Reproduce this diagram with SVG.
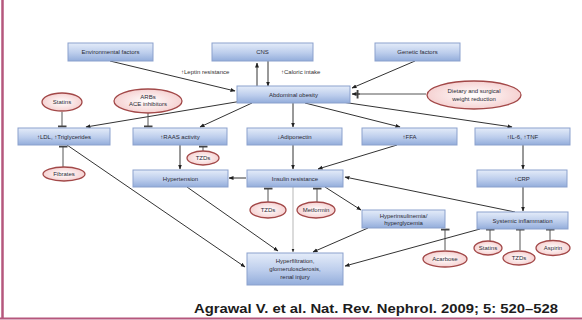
<svg xmlns="http://www.w3.org/2000/svg" width="582" height="320" viewBox="0 0 582 320">
  <defs>
    <linearGradient id="boxFill" x1="0" y1="0" x2="0" y2="1">
      <stop offset="0" stop-color="#e4ecf9"/>
      <stop offset="0.55" stop-color="#bccdec"/>
      <stop offset="1" stop-color="#93addb"/>
    </linearGradient>
    <radialGradient id="ovalFill" cx="0.5" cy="0.5" r="0.6">
      <stop offset="0" stop-color="#ffffff"/>
      <stop offset="1" stop-color="#f4c9c9"/>
    </radialGradient>
    <marker id="arrow" viewBox="0 0 10 10" refX="9" refY="5" markerWidth="5" markerHeight="5" orient="auto">
      <path d="M0,1 L10,5 L0,9 z" fill="#222"/>
    </marker>
    <marker id="bar" viewBox="0 0 4 12" refX="3" refY="6" markerWidth="3" markerHeight="9" orient="auto" markerUnits="userSpaceOnUse">
      <rect x="1" y="0" width="2.5" height="12" fill="#444"/>
    </marker>
  </defs>
  <style>
    .box { fill: url(#boxFill); stroke: #8ba1cd; stroke-width: 1; }
    .oval { fill: url(#ovalFill); stroke: #a24848; stroke-width: 1.3; }
    .lbl { font-family: "Liberation Sans", Arial, sans-serif; font-size: 6px; fill: #2a2a35; text-anchor: middle; }
    .note { font-family: "Liberation Sans", Arial, sans-serif; font-size: 6px; fill: #333; }
    .arr { fill: none; stroke: #333; stroke-width: 1; marker-end: url(#arrow); }
    .inh { fill: none; stroke: #555; stroke-width: 1; marker-end: url(#bar); }
    .thin { fill: none; stroke: #999; stroke-width: 0.7; marker-end: url(#arrow); }
    .cite { font-family: "Liberation Sans", Arial, sans-serif; font-size: 12.5px; font-weight: bold; fill: #1c1c1c; }
  </style>

  <rect width="582" height="320" fill="#ffffff"/>
  <!-- frame lines -->
  <line x1="2.5" y1="0" x2="2.5" y2="319" stroke="#b5577d" stroke-width="2.5"/>
  <line x1="0" y1="318.5" x2="582" y2="318.5" stroke="#b5577d" stroke-width="2"/>

  <g id="connectors">
    <path class="arr" d="M110,61 L235,91"/>
    <path class="arr" d="M415,61 L352,88"/>
    <path class="arr" d="M257,87 L257,63"/>
    <path class="arr" d="M268,61 L268,86"/>
    <path class="inh" d="M426,94 L357,94"/>
    <path class="arr" d="M360,94 L352,94"/>
    <path class="arr" d="M242,101 L86,127"/>
    <path class="arr" d="M252,103 L200,127"/>
    <path class="arr" d="M293,103 L293,127"/>
    <path class="arr" d="M305,103 L400,127"/>
    <path class="arr" d="M335,101 L512,127"/>
    <path class="inh" d="M62,112 L62,127"/>
    <path class="inh" d="M148,113 L148,127"/>
    <path class="inh" d="M63,167 L63,146"/>
    <path class="arr" d="M180,145 L180,169"/>
    <path class="inh" d="M203,151 L203,146"/>
    <path class="arr" d="M293,145 L293,169"/>
    <path class="arr" d="M397,145 L318,169"/>
    <path class="arr" d="M523,145 L523,169"/>
    <path class="arr" d="M523,187 L523,211"/>
    <path class="arr" d="M246,178 L229,178"/>
    <path class="arr" d="M515,212 L345,177"/>
    <path class="inh" d="M268,202 L268,188"/>
    <path class="inh" d="M317,202 L317,188"/>
    <path class="thin" d="M293,187 L293,252"/>
    <path class="arr" d="M325,187 L361,210"/>
    <path class="inh" d="M445,250 L445,229"/>
    <path class="arr" d="M368,228 L313,252"/>
    <path class="arr" d="M480,229 L345,266"/>
    <path class="inh" d="M490,241 L490,229"/>
    <path class="inh" d="M520,250 L520,229"/>
    <path class="inh" d="M550,240 L550,229"/>
    <path class="arr" d="M67,145 L245,267"/>
    <path class="arr" d="M187,187 L278,251"/>
  </g>

  <g id="environmental-factors">
    <rect class="box" x="68" y="43" width="85" height="18"/>
    <text class="lbl" x="110.5" y="54">Environmental factors</text>
  </g>
  <g id="cns">
    <rect class="box" x="212" y="43" width="101" height="18"/>
    <text class="lbl" x="262.5" y="54">CNS</text>
  </g>
  <g id="genetic-factors">
    <rect class="box" x="375" y="43" width="85" height="18"/>
    <text class="lbl" x="417.5" y="54">Genetic factors</text>
  </g>
  <g id="cns-labels">
    <text class="note" x="181" y="74">↑Leptin resistance</text>
    <text class="note" x="281" y="74">↑Caloric intake</text>
  </g>
  <g id="abdominal-obesity">
    <rect class="box" x="237" y="86" width="113" height="17"/>
    <text class="lbl" x="293.5" y="96.5">Abdominal obesity</text>
  </g>
  <g id="weight-reduction">
    <ellipse class="oval" cx="474" cy="95" rx="47" ry="14"/>
    <text class="lbl" x="474" y="93">Dietary and surgical</text>
    <text class="lbl" x="474" y="100.5">weight reduction</text>
  </g>
  <g id="statins-ldl">
    <ellipse class="oval" cx="62" cy="102" rx="20" ry="9"/>
    <text class="lbl" x="62" y="104">Statins</text>
  </g>
  <g id="arbs-ace">
    <ellipse class="oval" cx="148" cy="101" rx="34" ry="12"/>
    <text class="lbl" x="148" y="98.5">ARBs</text>
    <text class="lbl" x="148" y="106">ACE inhibitors</text>
  </g>
  <g id="ldl">
    <rect class="box" x="18" y="128" width="92" height="17"/>
    <text class="lbl" x="64" y="138.5">↑LDL, ↑Triglycerides</text>
  </g>
  <g id="raas">
    <rect class="box" x="133" y="128" width="94" height="17"/>
    <text class="lbl" x="180" y="138.5">↑RAAS activity</text>
  </g>
  <g id="adiponectin">
    <rect class="box" x="247" y="128" width="95" height="17"/>
    <text class="lbl" x="294.5" y="138.5">↓Adiponectin</text>
  </g>
  <g id="ffa">
    <rect class="box" x="362" y="128" width="95" height="17"/>
    <text class="lbl" x="409.5" y="138.5">↑FFA</text>
  </g>
  <g id="il6-tnf">
    <rect class="box" x="475" y="128" width="95" height="17"/>
    <text class="lbl" x="522.5" y="138.5">↑IL-6, ↑TNF</text>
  </g>
  <g id="fibrates">
    <ellipse class="oval" cx="64" cy="174" rx="21" ry="7"/>
    <text class="lbl" x="64" y="176">Fibrates</text>
  </g>
  <g id="tzds-raas">
    <ellipse class="oval" cx="203" cy="158" rx="16" ry="7"/>
    <text class="lbl" x="203" y="160">TZDs</text>
  </g>
  <g id="hypertension">
    <rect class="box" x="133" y="170" width="95" height="17"/>
    <text class="lbl" x="180.5" y="180.5">Hypertension</text>
  </g>
  <g id="insulin-resistance">
    <rect class="box" x="247" y="170" width="96" height="17"/>
    <text class="lbl" x="295" y="180.5">Insulin resistance</text>
  </g>
  <g id="crp">
    <rect class="box" x="477" y="170" width="90" height="17"/>
    <text class="lbl" x="522" y="180.5">↑CRP</text>
  </g>
  <g id="tzds-ir">
    <ellipse class="oval" cx="268" cy="210" rx="18" ry="8"/>
    <text class="lbl" x="268" y="212">TZDs</text>
  </g>
  <g id="metformin">
    <ellipse class="oval" cx="316" cy="210" rx="19" ry="8"/>
    <text class="lbl" x="316" y="212">Metformin</text>
  </g>
  <g id="hyperinsulinemia">
    <rect class="box" x="362" y="210" width="83" height="18"/>
    <text class="lbl" x="403.5" y="217.5">Hyperinsulinemia/</text>
    <text class="lbl" x="403.5" y="224.5">hyperglycemia</text>
  </g>
  <g id="systemic-inflammation">
    <rect class="box" x="477" y="212" width="91" height="17"/>
    <text class="lbl" x="522.5" y="222.5">Systemic inflammation</text>
  </g>
  <g id="glycemic-drug">
    <ellipse class="oval" cx="445" cy="259" rx="22" ry="8"/>
    <text class="lbl" x="445" y="261">Acarbose</text>
  </g>
  <g id="statins-inflammation">
    <ellipse class="oval" cx="488" cy="248" rx="14" ry="7"/>
    <text class="lbl" x="488" y="250">Statins</text>
  </g>
  <g id="tzds-inflammation">
    <ellipse class="oval" cx="519" cy="258" rx="16" ry="7"/>
    <text class="lbl" x="519" y="260">TZDs</text>
  </g>
  <g id="aspirin">
    <ellipse class="oval" cx="553" cy="248" rx="17" ry="7.5"/>
    <text class="lbl" x="553" y="250">Aspirin</text>
  </g>
  <g id="renal-injury">
    <rect class="box" x="247" y="253" width="96" height="32"/>
    <text class="lbl" x="295" y="263">Hyperfiltration,</text>
    <text class="lbl" x="295" y="271">glomerulosclerosis,</text>
    <text class="lbl" x="295" y="279">renal injury</text>
  </g>

  <text class="cite" x="558" y="313" text-anchor="end" textLength="364" lengthAdjust="spacingAndGlyphs">Agrawal V. et al. Nat. Rev. Nephrol. 2009; 5: 520–528</text>
</svg>
